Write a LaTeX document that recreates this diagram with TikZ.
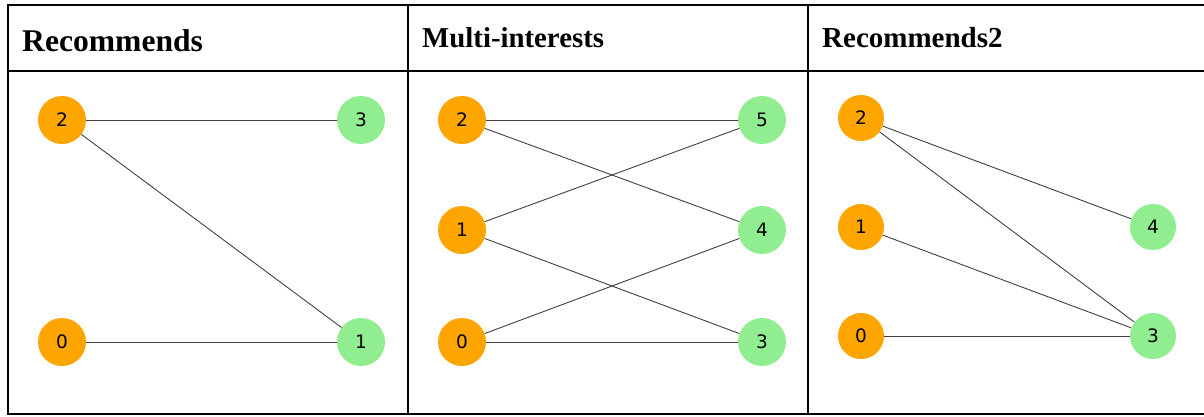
\documentclass[tikz,border=0pt]{standalone}
\usepackage{fontspec}
\setmainfont{Liberation Serif}
\newfontfamily\labelfont{DejaVu Sans}
\definecolor{userorange}{HTML}{FFA500}
\definecolor{itemgreen}{HTML}{90EE90}
\begin{document}
\begin{tikzpicture}[x=1pt,y=-1pt,
  frame/.style={line width=2.8pt,black},
  user/.style={circle,fill=userorange,minimum size=48pt,inner sep=0pt,font=\labelfont\fontsize{18.5}{18.5}\selectfont},
  item/.style={circle,fill=itemgreen,minimum size=48pt,inner sep=0pt,font=\labelfont\fontsize{18.5}{18.5}\selectfont},
  link/.style={black!75,line width=0.9pt},
  title/.style={anchor=base west,inner sep=0pt,font=\bfseries}]
\useasboundingbox (0,0) rectangle (1204,416);

% table frame
\draw[frame] (1210,5) -- (8,5) -- (8,414) -- (1210,414);
\draw[frame] (8,71) -- (1210,71);
\draw[frame] (408,5) -- (408,414);
\draw[frame] (808,5) -- (808,414);

% column headings
\node[title,font=\bfseries\fontsize{31.6}{36}\selectfont] (h1) at (22,51) {Recommends};
\node[title,font=\bfseries\fontsize{28.8}{34}\selectfont] (h2) at (422,47) {Multi-interests};
\node[title,font=\bfseries\fontsize{29}{34}\selectfont] (h3) at (822,47) {Recommends2};

% Recommends
\node[user] (a2) at (62,120) {2};
\node[user] (a0) at (62,342) {0};
\node[item] (a3) at (361,120) {3};
\node[item] (a1) at (361,342) {1};
\draw[link] (a2) -- (a3);
\draw[link] (a2) -- (a1);
\draw[link] (a0) -- (a1);

% Multi-interests
\node[user] (b2) at (462,120) {2};
\node[user] (b1) at (462,230) {1};
\node[user] (b0) at (462,342) {0};
\node[item] (b5) at (762,120) {5};
\node[item] (b4) at (762,230) {4};
\node[item] (b3) at (762,342) {3};
\draw[link] (b2) -- (b5);
\draw[link] (b2) -- (b4);
\draw[link] (b1) -- (b5);
\draw[link] (b1) -- (b3);
\draw[link] (b0) -- (b4);
\draw[link] (b0) -- (b3);

% Recommends2
\node[user,minimum size=46pt] (c2) at (861,118) {2};
\node[user,minimum size=46pt] (c1) at (861,227) {1};
\node[user,minimum size=46pt] (c0) at (861,336) {0};
\node[item,minimum size=46pt] (c4) at (1153,227) {4};
\node[item,minimum size=46pt] (c3) at (1153,336) {3};
\draw[link] (c2) -- (c4);
\draw[link] (c2) -- (c3);
\draw[link] (c1) -- (c3);
\draw[link] (c0) -- (c3);
\end{tikzpicture}
\end{document}
